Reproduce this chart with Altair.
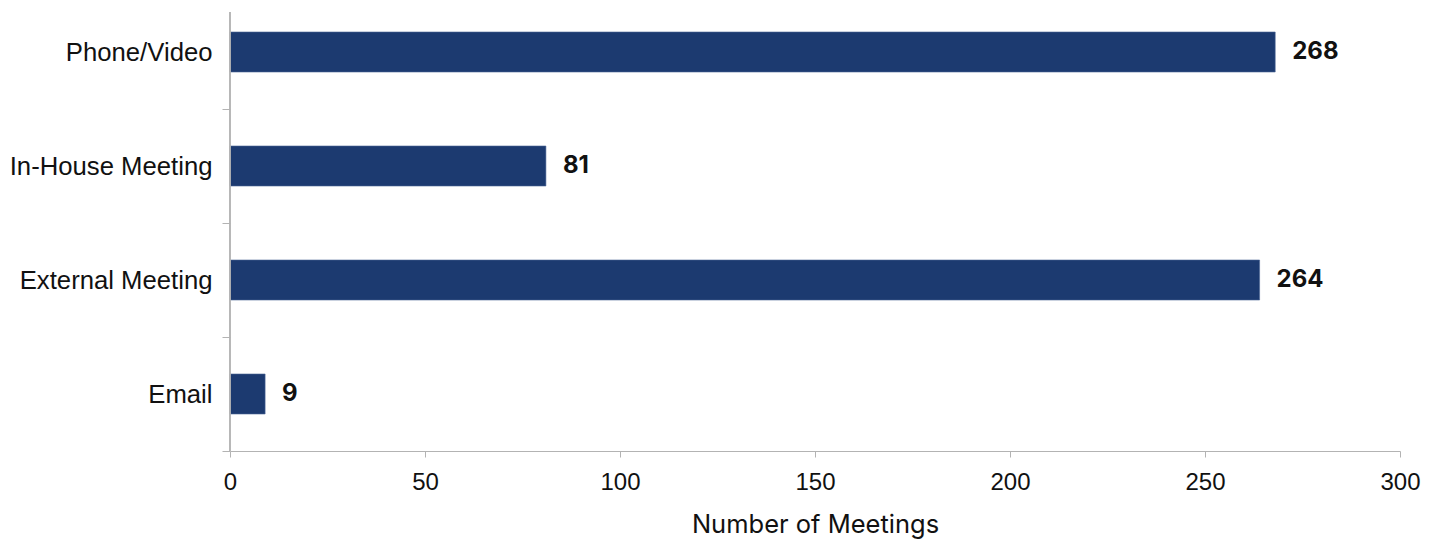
import altair as alt
import pandas as pd

categories = ["Phone/Video", "In-House Meeting", "External Meeting", "Email"]
values = [268, 81, 264, 9]

df = pd.DataFrame({"cat": categories, "val": values})

LABEL_FONT = "Liberation Sans"
TITLE_FONT = "Inter"
AXIS_COLOR = "#b3b3b3"
BAR_COLOR = "#1c3a70"

y_enc = alt.Y(
    "cat:N",
    sort=categories,
    scale=alt.Scale(range=[-17, 439], paddingInner=0, paddingOuter=0),
    axis=alt.Axis(
        title=None,
        domain=False,
        tickBand="extent",
        tickSize=8,
        tickColor=AXIS_COLOR,
        labelFont=LABEL_FONT,
        labelFontSize=25.7,
        labelColor="#111111",
        labelPadding=10,
        labelLimit=400,
    ),
)

x_enc = alt.X(
    "val:Q",
    scale=alt.Scale(domain=[0, 300], nice=False),
    axis=alt.Axis(
        title="Number of Meetings",
        values=[0, 50, 100, 150, 200, 250, 300],
        grid=False,
        labelFlush=False,
        domainColor=AXIS_COLOR,
        tickColor=AXIS_COLOR,
        tickSize=6,
        labelFont=LABEL_FONT,
        labelFontSize=24,
        labelColor="#111111",
        labelPadding=13,
        titleFont=TITLE_FONT,
        titleFontSize=25.5,
        titleFontWeight="normal",
        titleColor="#111111",
        titlePadding=18,
    ),
)

bars = alt.Chart(df).mark_bar(
    color=BAR_COLOR, stroke="#4a6596", strokeWidth=0.6, size=40
).encode(x=x_enc, y=y_enc)

labels = alt.Chart(df).mark_text(
    align="left", baseline="middle", dx=17, font=TITLE_FONT, fontSize=24, fontWeight="bold", color="#111111"
).encode(x="val:Q", y=alt.Y("cat:N", sort=categories), text="val:Q")

yline = alt.Chart(df).mark_rule(color=AXIS_COLOR, strokeWidth=1).encode(
    x=alt.value(0), y=alt.value(0), y2=alt.value(439)
)

chart = (
    alt.layer(bars, labels, yline)
    .properties(
        width=1170,
        height=439,
        autosize=alt.AutoSizeParams(type="none"),
        padding={"left": 230, "top": 12, "right": 38, "bottom": 90},
        view=alt.ViewBackground(strokeOpacity=0, strokeWidth=0),
    )
    .configure_view(stroke="transparent", strokeWidth=0, strokeOpacity=0)
    .configure(background="white")
)

chart.save("out.html", embed_options={"renderer": "svg", "actions": False})
